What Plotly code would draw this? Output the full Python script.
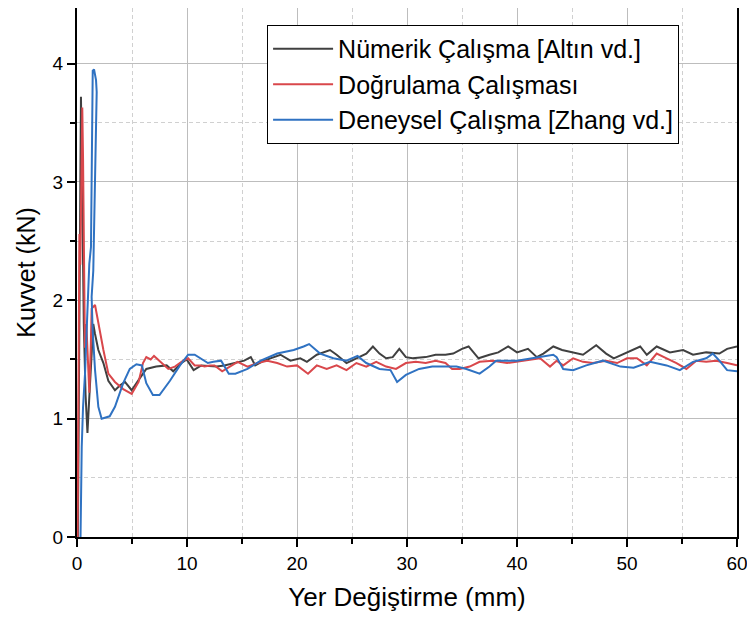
import plotly.graph_objects as go

# Nümerik Çalışma [Altın vd.]
x_num = [0.08, 0.15, 0.22, 0.3, 0.36, 0.42, 0.5, 0.62, 0.78, 0.95,
         1.1, 1.3, 1.48, 1.63, 1.94, 2.4, 2.85, 3.45, 3.9, 4.36,
         4.97, 5.7, 6.3, 7.2, 8.15, 8.75, 9.5, 9.97, 10.6, 11.3,
         12.2, 12.7, 13.4, 14.2, 14.8, 15.2, 15.8, 16.2, 17.0, 17.9,
         18.5, 19.4, 20.3, 20.9, 21.8, 23.0, 23.6, 24.5, 25.4, 26.3,
         26.9, 27.5, 28.1, 28.7, 29.3, 29.9, 30.5, 31.7, 32.6, 33.5,
         34.2, 35.0, 35.6, 36.5, 37.5, 38.3, 39.2, 40.0, 41.0, 41.8,
         42.4, 43.3, 44.1, 45.1, 46.0, 47.2, 48.1, 48.8, 49.7, 51.2,
         51.8, 52.7, 53.9, 55.1, 56.0, 57.2, 58.4, 59.1, 60.0]
y_num = [0, 1.2, 2.3, 3.3, 3.72, 3.3, 2.6, 1.8, 1.2, 0.88,
         1.15, 1.55, 1.80, 1.72, 1.58, 1.47, 1.32, 1.24, 1.28, 1.31,
         1.24, 1.34, 1.42, 1.44, 1.45, 1.40, 1.47, 1.50, 1.41, 1.45,
         1.44, 1.44, 1.45, 1.47, 1.48, 1.49, 1.52, 1.45, 1.49, 1.52,
         1.54, 1.49, 1.51, 1.48, 1.54, 1.58, 1.54, 1.47, 1.51, 1.55,
         1.61, 1.55, 1.51, 1.52, 1.59, 1.52, 1.51, 1.52, 1.54, 1.54,
         1.55, 1.59, 1.61, 1.51, 1.54, 1.56, 1.61, 1.56, 1.59, 1.52,
         1.55, 1.61, 1.58, 1.56, 1.54, 1.62, 1.55, 1.51, 1.55, 1.61,
         1.54, 1.61, 1.56, 1.58, 1.54, 1.56, 1.55, 1.59, 1.61]

# Doğrulama Çalışması
x_dog = [0.05, 0.15, 0.22, 0.3, 0.4, 0.48, 0.55, 0.62, 0.72, 0.85,
         1.0, 1.12, 1.25, 1.33, 1.64, 1.94, 2.4, 2.85, 3.45, 4.2,
         4.97, 5.6, 6.0, 6.3, 6.7, 7.0, 7.7, 8.3, 8.9, 9.66,
         10.1, 10.7, 11.2, 11.6, 12.1, 12.5, 13.2, 14.0, 14.6, 15.5,
         16.4, 17.3, 18.2, 19.1, 20.0, 21.0, 21.8, 22.7, 23.6, 24.5,
         25.4, 26.3, 27.2, 28.1, 29.0, 29.9, 30.8, 31.7, 32.6, 33.5,
         34.1, 34.8, 35.7, 36.6, 37.8, 39.1, 40.6, 42.1, 43.0, 43.6,
         44.2, 45.1, 46.0, 46.9, 48.1, 49.1, 50.0, 50.9, 51.8, 52.7,
         53.6, 54.5, 55.4, 56.3, 57.2, 58.1, 59.1, 60.0]
y_dog = [0, 1.4, 2.56, 2.3, 3.3, 3.63, 3.2, 2.3, 1.6, 1.8,
         1.4, 1.22, 1.6, 1.93, 1.96, 1.80, 1.58, 1.38, 1.31, 1.25,
         1.21, 1.31, 1.47, 1.52, 1.50, 1.53, 1.47, 1.42, 1.44, 1.49,
         1.51, 1.45, 1.45, 1.44, 1.45, 1.45, 1.40, 1.45, 1.48, 1.44,
         1.47, 1.49, 1.47, 1.44, 1.45, 1.38, 1.45, 1.42, 1.45, 1.41,
         1.47, 1.44, 1.48, 1.44, 1.42, 1.47, 1.48, 1.47, 1.49, 1.47,
         1.42, 1.42, 1.44, 1.48, 1.49, 1.47, 1.49, 1.51, 1.44, 1.49,
         1.45, 1.51, 1.48, 1.47, 1.49, 1.47, 1.51, 1.51, 1.45, 1.55,
         1.51, 1.47, 1.42, 1.49, 1.48, 1.49, 1.47, 1.45]

# Deneysel Çalışma [Zhang vd.]
x_den = [0.32, 0.43, 0.55, 0.73, 0.88, 1.12, 1.27, 1.33, 1.38, 1.43,
         1.55, 1.73, 1.79, 1.72, 1.64, 1.55, 1.48, 1.33, 1.42, 1.64,
         1.94, 2.24, 2.97, 3.45, 4.2, 4.8, 5.4, 5.9, 6.3, 6.9,
         7.5, 8.45, 9.36, 10.1, 10.7, 11.5, 11.9, 12.4, 13.1, 13.8,
         14.4, 15.5, 16.7, 18.2, 19.7, 20.6, 21.1, 22.1, 23.3, 24.5,
         25.5, 26.3, 27.5, 28.5, 29.1, 29.9, 31.1, 32.3, 33.5, 34.5,
         35.4, 36.6, 37.5, 38.1, 40.0, 41.8, 43.3, 43.6, 44.2, 45.1,
         46.3, 47.8, 49.4, 50.6, 52.1, 53.6, 54.8, 56.0, 57.2, 57.8,
         58.4, 59.1, 60.0]
y_den = [0, 0.76, 1.1, 1.38, 1.75, 2.31, 2.45, 3.0, 3.6, 3.94,
         3.95, 3.86, 3.76, 3.3, 2.9, 2.59, 2.25, 2.03, 1.75, 1.41,
         1.1, 1.0, 1.02, 1.10, 1.30, 1.42, 1.46, 1.45, 1.30, 1.20,
         1.20, 1.32, 1.45, 1.54, 1.54, 1.49, 1.47, 1.48, 1.49, 1.38,
         1.38, 1.42, 1.49, 1.55, 1.58, 1.61, 1.63, 1.55, 1.51, 1.49,
         1.53, 1.47, 1.42, 1.41, 1.31, 1.37, 1.42, 1.44, 1.44, 1.44,
         1.42, 1.38, 1.44, 1.49, 1.49, 1.52, 1.54, 1.52, 1.42, 1.41,
         1.45, 1.49, 1.44, 1.43, 1.48, 1.45, 1.41, 1.48, 1.51, 1.55,
         1.49, 1.41, 1.40]

seriler = [
    ("Nümerik Çalışma [Altın vd.]", x_num, y_num, "#404040"),
    ("Doğrulama Çalışması", x_dog, y_dog, "#d9474b"),
    ("Deneysel Çalışma [Zhang vd.]", x_den, y_den, "#2f72c2"),
]

fig = go.Figure()
for ad, xs, ys, renk in seriler:
    fig.add_trace(go.Scatter(x=xs, y=ys, name=ad, mode="lines",
                             line=dict(color=renk, width=2)))

fonts = "Arial, Liberation Sans, sans-serif"

# sayfanın 8px'lik body kenar boşluğu hesaba katıldı
fig.update_layout(
    width=747, height=610,
    margin=dict(l=69, r=18, t=0, b=81),
    plot_bgcolor="white", paper_bgcolor="white",
    font=dict(family=fonts, color="black"),
    legend=dict(x=0.288, y=0.968, xanchor="left", yanchor="top",
                bordercolor="black", borderwidth=1, bgcolor="white",
                font=dict(size=25), tracegroupgap=0, itemwidth=60),
)

eksen = dict(showline=True, linewidth=2, linecolor="black", mirror=True,
             ticks="outside", ticklen=8, tickwidth=2, tickcolor="black",
             showgrid=True, gridcolor="#bdbdbd", gridwidth=1,
             zeroline=False, tickfont=dict(size=19), automargin=False)

fig.update_xaxes(**eksen, range=[0, 60], dtick=10,
                 title=dict(text="Yer Değiştirme (mm)", font=dict(size=26), standoff=15),
                 minor=dict(dtick=5, ticks="outside", ticklen=5, tickwidth=2,
                            tickcolor="black", showgrid=True,
                            gridcolor="#d0d0d0", griddash="4px,3px"))
fig.update_yaxes(**eksen, range=[0, 4.47], dtick=1,
                 title=dict(text="Kuvvet (kN)", font=dict(size=25), standoff=10),
                 minor=dict(dtick=0.5, ticks="outside", ticklen=5, tickwidth=2,
                            tickcolor="black", showgrid=True,
                            gridcolor="#d0d0d0", griddash="4px,3px"))

fig.write_html("out.html")
